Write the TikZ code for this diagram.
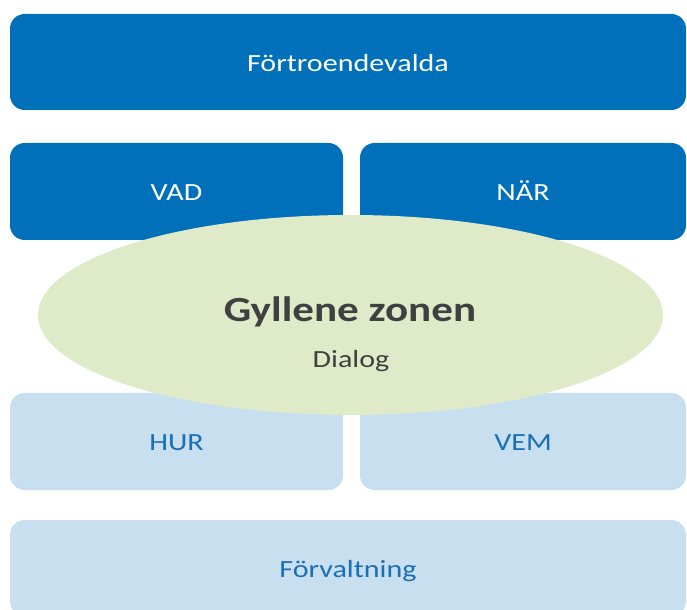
\documentclass[tikz,border=0pt]{standalone}
\usepackage{fontspec}
\setmainfont[FakeStretch=1.22]{Carlito}
\usetikzlibrary{shapes.geometric}
\definecolor{darkblue}{HTML}{0070BA}
\definecolor{lightblue}{HTML}{C7DFEF}
\definecolor{zonegreen}{HTML}{DFEAC9}
\definecolor{textblue}{HTML}{1A6FB5}
\definecolor{textgray}{HTML}{404040}
\tikzset{
  upper/.style={rectangle, rounded corners=11pt, fill=darkblue, text=white,
    inner sep=0pt, text height=14pt, text depth=0pt, font=\fontsize{18.5}{22}\selectfont},
  lower/.style={rectangle, rounded corners=11pt, fill=lightblue, text=textblue,
    inner sep=0pt, text height=14pt, text depth=0pt, font=\fontsize{18.5}{22}\selectfont},
  zone/.style={ellipse, fill=zonegreen, inner sep=0pt}
}
\begin{document}
\begin{tikzpicture}[x=0.75pt,y=-0.75pt]
\useasboundingbox (0,0) rectangle (687,610);
\clip (0,0) rectangle (687,610);
% politicians on top
\node[upper, minimum width=676*0.75pt, minimum height=96*0.75pt] (valda) at (348,62) {Förtroendevalda};
\node[upper, minimum width=333*0.75pt, minimum height=97*0.75pt] (vad) at (176.5,191.5) {VAD};
\node[upper, minimum width=326*0.75pt, minimum height=97*0.75pt] (nar) at (523,191.5) {NÄR};
% administration below
\node[lower, minimum width=333*0.75pt, minimum height=97*0.75pt] (hur) at (176.5,441.5) {HUR};
\node[lower, minimum width=326*0.75pt, minimum height=97*0.75pt] (vem) at (523,441.5) {VEM};
\node[lower, minimum width=676*0.75pt, minimum height=96*0.75pt] (forv) at (348,568) {Förvaltning};
% the zone in between
\node[zone, minimum width=625*0.75pt, minimum height=200*0.75pt] (zon) at (350.5,315) {};
\node[anchor=base, text=textgray, font=\bfseries\fontsize{26.5}{30}\selectfont] (gyllene) at (350,321) {Gyllene zonen};
\node[anchor=base, text=textgray, font=\fontsize{18.5}{22}\selectfont] (dialog) at (351,368) {Dialog};
\end{tikzpicture}
\end{document}
